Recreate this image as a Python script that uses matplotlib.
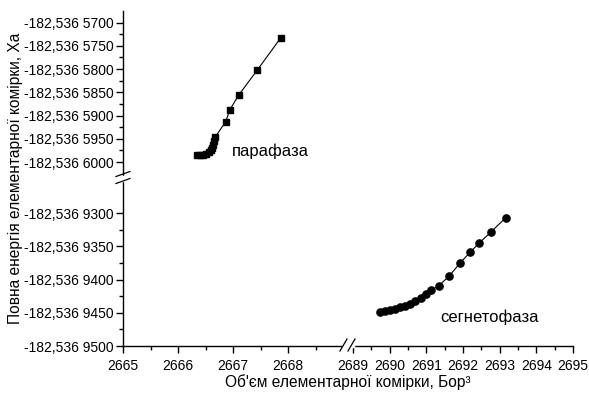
import numpy as np
import matplotlib
matplotlib.use('Agg')
import matplotlib.pyplot as plt
from matplotlib.ticker import FixedLocator, FuncFormatter

plt.rcParams['font.family'] = ['Liberation Sans', 'DejaVu Sans']

# парафаза (квадрати)
para_V = [2666.345, 2666.400, 2666.455, 2666.509, 2666.555, 2666.591, 2666.618, 2666.636,
          2666.655, 2666.673, 2666.867, 2666.945, 2667.109, 2667.442, 2667.867]
para_E = [-182.5365985, -182.5365985, -182.5365984, -182.5365982, -182.5365979, -182.5365974,
          -182.5365969, -182.5365963, -182.5365955, -182.5365947, -182.5365913, -182.5365887,
          -182.5365855, -182.5365802, -182.5365733]

# сегнетофаза (кола)
ferro_V = [2689.74, 2689.87, 2690.01, 2690.15, 2690.28, 2690.42, 2690.55, 2690.69, 2690.85,
           2690.99, 2691.13, 2691.34, 2691.62, 2691.92, 2692.19, 2692.44, 2692.75, 2693.16]
ferro_E = [-182.5369449, -182.5369448, -182.5369446, -182.5369444, -182.5369442, -182.5369440,
           -182.5369436, -182.5369432, -182.5369427, -182.5369422, -182.5369416, -182.5369409,
           -182.5369395, -182.5369375, -182.5369359, -182.5369345, -182.5369329, -182.5369307]

x_major = [2665, 2666, 2667, 2668, 2689, 2690, 2691, 2692, 2693, 2694, 2695]
x_minor = [2665.5, 2666.5, 2667.5, 2668.5, 2689.5, 2690.5, 2691.5, 2692.5, 2693.5, 2694.5]
y_major = [-182.53657, -182.536575, -182.53658, -182.536585, -182.53659, -182.536595, -182.5366,
           -182.53693, -182.536935, -182.53694, -182.536945, -182.53695]
y_minor = [-182.5365725, -182.5365775, -182.5365825, -182.5365875, -182.5365925, -182.5365975,
           -182.5369325, -182.5369375, -182.5369425, -182.5369475]

# розриви осей: (дані, віртуальні координати)
x_src = [2665.0, 2669.0, 2689.0, 2695.0]
x_dst = [0.0, 220.0, 230.0, 450.0]
y_src = [-182.53695, -182.536925, -182.536603, -182.5365675]
y_dst = [0.0, 166.0, 170.0, 335.0]


def piecewise(src, dst):
    src = np.asarray(src)
    dst = np.asarray(dst)
    s0 = (dst[1] - dst[0]) / (src[1] - src[0])
    s1 = (dst[-1] - dst[-2]) / (src[-1] - src[-2])

    def fwd(v):
        v = np.asarray(v, dtype=float)
        out = np.interp(v, src, dst)
        out = np.where(v < src[0], dst[0] + (v - src[0]) * s0, out)
        out = np.where(v > src[-1], dst[-1] + (v - src[-1]) * s1, out)
        return out

    def inv(u):
        u = np.asarray(u, dtype=float)
        out = np.interp(u, dst, src)
        out = np.where(u < dst[0], src[0] + (u - dst[0]) / s0, out)
        out = np.where(u > dst[-1], src[-1] + (u - dst[-1]) / s1, out)
        return out

    return fwd, inv


def fmt_energy(v, pos):
    s = '%.7f' % v
    s = s.replace('.', ',')
    return s[:8] + ' ' + s[8:]


fig = plt.figure(figsize=(5.89, 3.99), dpi=100)
ax = fig.add_axes([123 / 589, 53 / 399, 450 / 589, 335 / 399])

ax.set_xscale('function', functions=piecewise(x_src, x_dst))
ax.set_yscale('function', functions=piecewise(y_src, y_dst))

ax.plot(para_V, para_E, '-', color='black', lw=0.8, marker='s', ms=4.5)
ax.plot(ferro_V, ferro_E, '-', color='black', lw=0.8, marker='o', ms=5.2)

ax.set_xlim(x_src[0], x_src[-1])
ax.set_ylim(y_src[0], y_src[-1])

ax.xaxis.set_major_locator(FixedLocator(x_major))
ax.xaxis.set_minor_locator(FixedLocator(x_minor))
ax.xaxis.set_major_formatter(FuncFormatter(lambda v, p: '%d' % round(v)))
ax.yaxis.set_major_locator(FixedLocator(y_major))
ax.yaxis.set_minor_locator(FixedLocator(y_minor))
ax.yaxis.set_major_formatter(FuncFormatter(fmt_energy))

for side in ['top', 'right']:
    ax.spines[side].set_visible(False)
for side in ['left', 'bottom']:
    ax.spines[side].set_linewidth(1.0)

ax.tick_params(which='major', direction='out', length=5, width=1.0, labelsize=10, pad=2)
ax.tick_params(which='minor', direction='out', length=3, width=1.0)
ax.tick_params(axis='x', which='major', pad=4)

ax.text(2666.98, -182.5365976, 'парафаза', fontsize=12, va='center', ha='left')
ax.text(2691.37, -182.5369457, 'сегнетофаза', fontsize=12, va='center', ha='left')

ax.set_xlabel("Об'єм елементарної комірки, Бор³", fontsize=11.2, labelpad=1)
ax.set_ylabel('Повна енергія елементарної комірки, Ха', fontsize=11.2)
ax.yaxis.set_label_coords(-0.222, 0.5)

# позначки розриву
W, H = 450.0, 335.0
gx = [(220 + 0.5) / W, (230 - 0.5) / W]
ax.plot([gx[0], gx[1]], [0, 0], color='white', lw=2.5, transform=ax.transAxes,
        clip_on=False, zorder=5)
for cx in [220 / W, 228 / W]:
    ax.plot([cx - 3 / W, cx + 4 / W], [-5 / H, 7 / H], color='black', lw=0.9,
            transform=ax.transAxes, clip_on=False, zorder=6)
gy = [(166 + 0.5) / H, (170 - 0.5) / H]
ax.plot([0, 0], [gy[0], gy[1]], color='white', lw=2.5, transform=ax.transAxes,
        clip_on=False, zorder=5)
for cy in [165 / H, 172 / H]:
    ax.plot([-7 / W, 7 / W], [cy - 2.5 / H, cy + 2.5 / H], color='black', lw=0.9,
            transform=ax.transAxes, clip_on=False, zorder=6)

fig.savefig('out.png', dpi=100)
